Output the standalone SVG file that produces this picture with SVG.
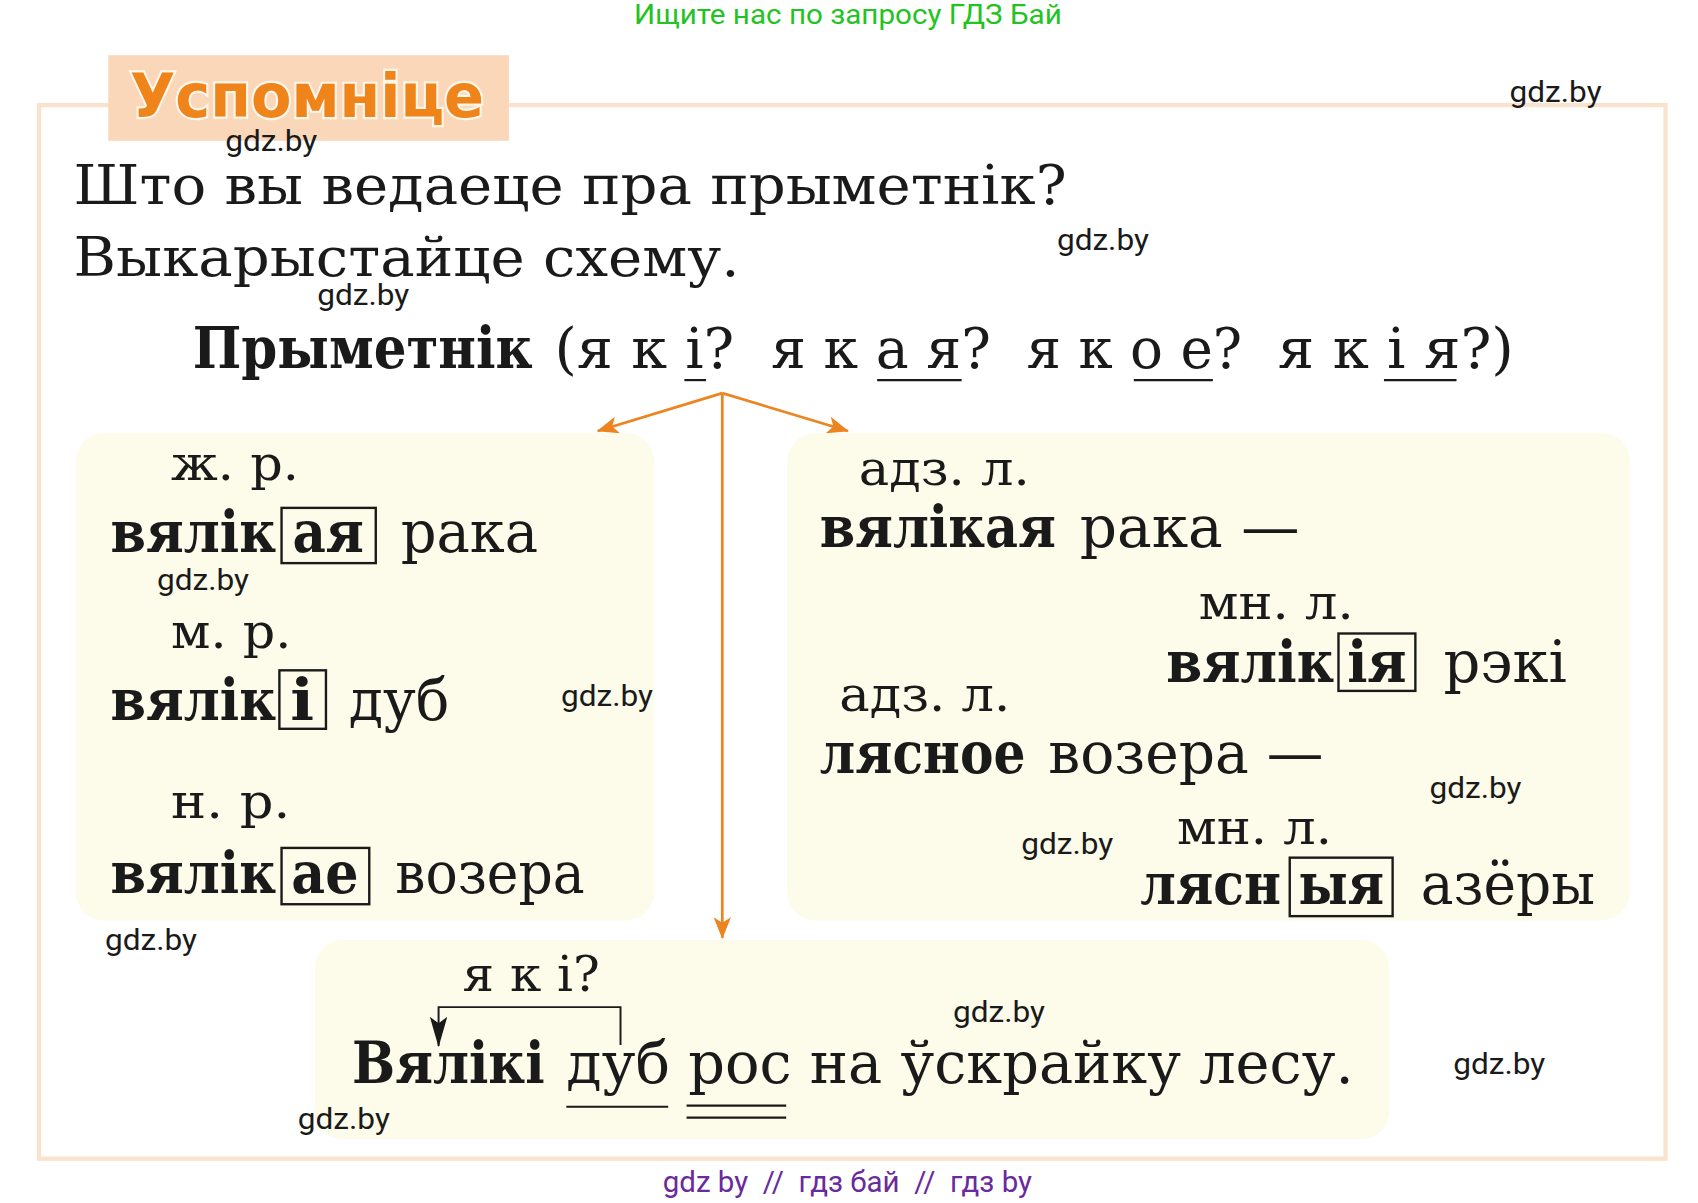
<svg xmlns="http://www.w3.org/2000/svg" width="1698" height="1203" viewBox="0 0 1698 1203">
<defs>
<style>
.ser{font-family:"DejaVu Serif","Liberation Serif",serif;fill:#1a1a1a}
.b{font-weight:bold}
.lab{font-size:44px}
.big{font-size:54px}
.wm{font-family:Roboto,"Liberation Sans",sans-serif;font-size:27px;fill:#1a1a1a}
.box{fill:#fdfbe9}
.end{fill:none;stroke:#1a1a1a;stroke-width:2.2}
.ul{stroke:#1a1a1a;stroke-width:2}
.conn{stroke:#ec8420;stroke-width:2.5;fill:none}
</style>
<marker id="oa" viewBox="0 0 20 16" refX="19" refY="8" markerWidth="20" markerHeight="16" markerUnits="userSpaceOnUse" orient="auto">
<path d="M0,0 L20,8 L0,16 L5,8 z" fill="#ec8420"/>
</marker>
<marker id="ba" viewBox="0 0 28 16" refX="27" refY="8" markerWidth="28" markerHeight="16" markerUnits="userSpaceOnUse" orient="auto">
<path d="M0,0 L28,8 L0,16 L6,8 z" fill="#1a1a1a"/>
</marker>
</defs>
<rect width="1698" height="1203" fill="#ffffff"/>
<g transform="scale(1.08291)">
<text x="783" y="22" text-anchor="middle" font-family="Roboto,'Liberation Sans',sans-serif" font-size="26" fill="#22c322" textLength="395" lengthAdjust="spacingAndGlyphs">Ищите нас по запросу ГДЗ Бай</text>

<rect x="36" y="97" width="1502" height="973" fill="none" stroke="#fae3cc" stroke-width="4"/>

<g id="header">
<rect x="100" y="51" width="370" height="79" fill="#fad7b8"/>
<text x="120" y="108" font-family="'DejaVu Sans',Verdana,sans-serif" font-weight="bold" font-size="56" fill="#ef841a" stroke="#fff6ea" stroke-width="4" paint-order="stroke" textLength="327" lengthAdjust="spacingAndGlyphs">Успомніце</text>
</g>

<g id="question">
<text class="ser" x="68" y="188" font-size="50" textLength="917" lengthAdjust="spacingAndGlyphs">Што вы ведаеце пра прыметнік?</text>
<text class="ser" x="68" y="255" font-size="50" textLength="615" lengthAdjust="spacingAndGlyphs">Выкарыстайце схему.</text>
</g>

<g id="title">
<text class="ser b" x="178" y="340" font-size="54" textLength="314" lengthAdjust="spacingAndGlyphs">Прыметнік</text>
<text class="ser" x="512" y="340" font-size="52" textLength="166" lengthAdjust="spacingAndGlyphs">(я к і?</text>
<text class="ser" x="712" y="340" font-size="52" textLength="203" lengthAdjust="spacingAndGlyphs">я к а я?</text>
<text class="ser" x="948" y="340" font-size="52" textLength="199" lengthAdjust="spacingAndGlyphs">я к о е?</text>
<text class="ser" x="1180" y="340" font-size="52" textLength="218" lengthAdjust="spacingAndGlyphs">я к і я?)</text>
<line class="ul" x1="632" y1="351" x2="652" y2="351"/>
<line class="ul" x1="810" y1="351" x2="888" y2="351"/>
<line class="ul" x1="1047" y1="351" x2="1120" y2="351"/>
<line class="ul" x1="1278" y1="351" x2="1345" y2="351"/>
</g>

<g id="connectors">
<line class="conn" x1="667" y1="363" x2="552" y2="398" marker-end="url(#oa)"/>
<line class="conn" x1="667" y1="363" x2="783" y2="398" marker-end="url(#oa)"/>
<line class="conn" x1="667" y1="363" x2="667" y2="866" marker-end="url(#oa)"/>
</g>

<g id="gender-box">
<rect class="box" x="70" y="400" width="534" height="450" rx="26"/>
<text class="ser lab" x="158" y="443" textLength="118" lengthAdjust="spacingAndGlyphs">ж. р.</text>
<text class="ser b big" x="102" y="510" textLength="153" lengthAdjust="spacingAndGlyphs">вялік</text>
<rect class="end" x="260" y="469" width="87" height="51"/>
<text class="ser b big" x="270" y="510" textLength="66" lengthAdjust="spacingAndGlyphs">ая</text>
<text class="ser big" x="370" y="510" textLength="127" lengthAdjust="spacingAndGlyphs">рака</text>
<text class="ser lab" x="158" y="598" textLength="111" lengthAdjust="spacingAndGlyphs">м. р.</text>
<text class="ser b big" x="102" y="665" textLength="153" lengthAdjust="spacingAndGlyphs">вялік</text>
<rect class="end" x="258" y="619" width="43" height="54"/>
<text class="ser b big" x="268" y="665" textLength="22" lengthAdjust="spacingAndGlyphs">і</text>
<text class="ser big" x="322" y="665" textLength="93" lengthAdjust="spacingAndGlyphs">дуб</text>
<text class="ser lab" x="158" y="755" textLength="110" lengthAdjust="spacingAndGlyphs">н. р.</text>
<text class="ser b big" x="102" y="825" textLength="153" lengthAdjust="spacingAndGlyphs">вялік</text>
<rect class="end" x="260" y="783" width="81" height="52"/>
<text class="ser b big" x="269" y="825" textLength="62" lengthAdjust="spacingAndGlyphs">ае</text>
<text class="ser big" x="365" y="825" textLength="175" lengthAdjust="spacingAndGlyphs">возера</text>
</g>

<g id="number-box">
<rect class="box" x="727" y="400" width="778" height="450" rx="26"/>
<text class="ser lab" x="793" y="448" textLength="158" lengthAdjust="spacingAndGlyphs">адз. л.</text>
<text class="ser b big" x="757" y="505" textLength="218" lengthAdjust="spacingAndGlyphs">вялікая</text>
<text class="ser big" x="997" y="505" textLength="203" lengthAdjust="spacingAndGlyphs">рака —</text>
<text class="ser lab" x="1107" y="572" textLength="143" lengthAdjust="spacingAndGlyphs">мн. л.</text>
<text class="ser b big" x="1077" y="630" textLength="155" lengthAdjust="spacingAndGlyphs">вялік</text>
<rect class="end" x="1236" y="585" width="71" height="53"/>
<text class="ser b big" x="1244" y="630" textLength="55" lengthAdjust="spacingAndGlyphs">ія</text>
<text class="ser big" x="1333" y="630" textLength="114" lengthAdjust="spacingAndGlyphs">рэкі</text>
<text class="ser lab" x="775" y="657" textLength="158" lengthAdjust="spacingAndGlyphs">адз. л.</text>
<text class="ser b big" x="757" y="714" textLength="190" lengthAdjust="spacingAndGlyphs">лясное</text>
<text class="ser big" x="968" y="714" textLength="254" lengthAdjust="spacingAndGlyphs">возера —</text>
<text class="ser lab" x="1087" y="779" textLength="143" lengthAdjust="spacingAndGlyphs">мн. л.</text>
<text class="ser b big" x="1053" y="835" textLength="130" lengthAdjust="spacingAndGlyphs">лясн</text>
<rect class="end" x="1191" y="792" width="95" height="54"/>
<text class="ser b big" x="1199" y="835" textLength="79" lengthAdjust="spacingAndGlyphs">ыя</text>
<text class="ser big" x="1312" y="835" textLength="161" lengthAdjust="spacingAndGlyphs">азёры</text>
</g>

<g id="example-box">
<rect class="box" x="291" y="868" width="992" height="184" rx="26"/>
<text class="ser lab" x="427" y="915" textLength="127" lengthAdjust="spacingAndGlyphs">я к і?</text>
<polyline points="573,965 573,930 405,930 405,966" fill="none" stroke="#1a1a1a" stroke-width="1.8" marker-end="url(#ba)"/>
<text class="ser b big" x="325" y="1000" textLength="178" lengthAdjust="spacingAndGlyphs">Вялікі</text>
<text class="ser big" x="523" y="1000" textLength="727" lengthAdjust="spacingAndGlyphs">дуб рос на ўскрайку лесу.</text>
<line class="ul" x1="523" y1="1022" x2="617" y2="1022"/>
<line class="ul" x1="634" y1="1021" x2="726" y2="1021"/>
<line class="ul" x1="634" y1="1032" x2="726" y2="1032"/>
</g>

<g id="watermarks">
<text class="wm" x="208" y="139" textLength="85" lengthAdjust="spacingAndGlyphs">gdz.by</text>
<text class="wm" x="1394" y="94" textLength="85" lengthAdjust="spacingAndGlyphs">gdz.by</text>
<text class="wm" x="976" y="231" textLength="85" lengthAdjust="spacingAndGlyphs">gdz.by</text>
<text class="wm" x="293" y="282" textLength="85" lengthAdjust="spacingAndGlyphs">gdz.by</text>
<text class="wm" x="145" y="545" textLength="85" lengthAdjust="spacingAndGlyphs">gdz.by</text>
<text class="wm" x="518" y="652" textLength="85" lengthAdjust="spacingAndGlyphs">gdz.by</text>
<text class="wm" x="97" y="877" textLength="85" lengthAdjust="spacingAndGlyphs">gdz.by</text>
<text class="wm" x="1320" y="737" textLength="85" lengthAdjust="spacingAndGlyphs">gdz.by</text>
<text class="wm" x="943" y="789" textLength="85" lengthAdjust="spacingAndGlyphs">gdz.by</text>
<text class="wm" x="880" y="944" textLength="85" lengthAdjust="spacingAndGlyphs">gdz.by</text>
<text class="wm" x="1342" y="992" textLength="85" lengthAdjust="spacingAndGlyphs">gdz.by</text>
<text class="wm" x="275" y="1043" textLength="85" lengthAdjust="spacingAndGlyphs">gdz.by</text>
</g>

<text x="612" y="1101" font-family="Roboto,'Liberation Sans',sans-serif" font-size="27" fill="#6a2a9c" textLength="341" lengthAdjust="spacingAndGlyphs" style="white-space:pre">gdz by  //  гдз бай  //  гдз by</text>
</g>
</svg>
